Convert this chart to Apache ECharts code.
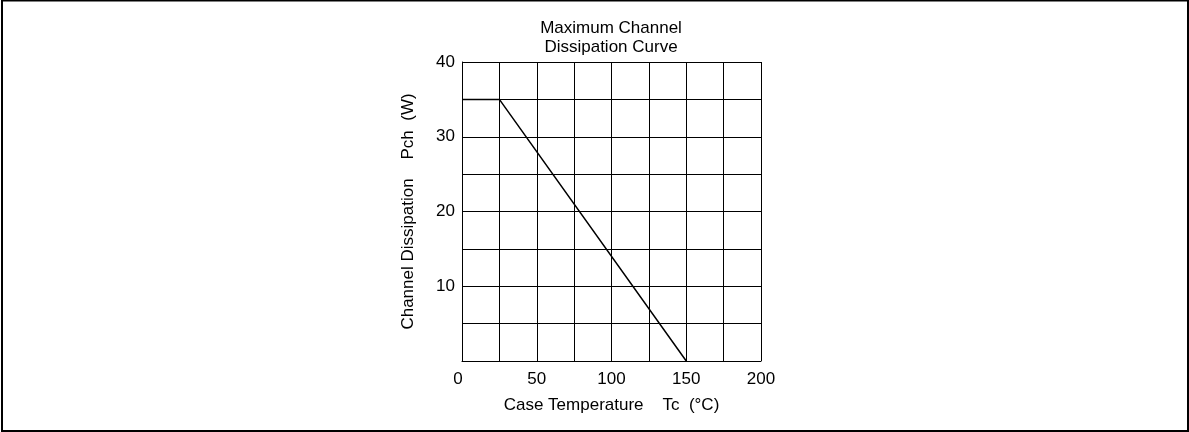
<!DOCTYPE html>
<html>
<head>
<meta charset="utf-8">
<style>
html,body{margin:0;padding:0;background:#fff;}
#chart{width:1189px;height:432px;}
</style>
<script src="https://cdn.jsdelivr.net/npm/echarts@6/dist/echarts.min.js"></script>
</head>
<body>
<div id="chart"></div>
<script>
const titleText = 'Maximum Channel\nDissipation Curve';
const xAxisName = 'Case Temperature    Tc  (°C)';
const yAxisName = 'Channel Dissipation    Pch  (W)';
const caseTemp = [0, 25, 150];
const pch = [35, 35, 0];
const xTickLabels = [0, 50, 100, 150, 200];
const yTickLabels = [10, 20, 30, 40];

const chart = echarts.init(document.getElementById('chart'), null, {renderer: 'canvas'});
const font = 'Liberation Sans, Arial, sans-serif';
const fs = 17;
chart.setOption({
  animation: false,
  backgroundColor: '#fff',
  textStyle: {fontFamily: font, color: '#000'},
  title: {
    text: titleText,
    left: 606, top: 14, textAlign: 'center',
    textStyle: {fontFamily: font, fontSize: fs, fontWeight: 'normal', color: '#000', lineHeight: 19}
  },
  graphic: [{
    type: 'rect', silent: true,
    shape: {x: 2, y: 0.5, width: 1186, height: 430.5},
    style: {fill: 'none', stroke: '#000', lineWidth: 2}
  }],
  grid: {left: 462, top: 62, width: 299, height: 299, containLabel: false},
  xAxis: {
    type: 'value', min: 0, max: 200, interval: 25,
    name: xAxisName, nameLocation: 'middle', nameGap: 36,
    nameTextStyle: {fontFamily: font, fontSize: fs, color: '#000'},
    axisLine: {show: true, lineStyle: {color: '#000', width: 1}},
    axisTick: {show: false},
    splitLine: {show: true, lineStyle: {color: '#000', width: 1}},
    axisLabel: {
      margin: 10, fontSize: fs, color: '#000', fontFamily: font,
      formatter: v => xTickLabels.includes(v) ? (v === 0 ? '{z|0}' : String(v)) : '',
      rich: {z: {fontSize: fs, fontFamily: font, color: '#000', padding: [0, 8, 7, 0]}}
    }
  },
  yAxis: {
    type: 'value', min: 0, max: 40, interval: 5,
    name: yAxisName, nameLocation: 'middle', nameGap: 45, nameRotate: 90,
    nameTextStyle: {fontFamily: font, fontSize: fs, color: '#000'},
    axisLine: {show: true, lineStyle: {color: '#000', width: 1}},
    axisTick: {show: false},
    splitLine: {show: true, lineStyle: {color: '#000', width: 1}},
    axisLabel: {
      margin: 7, fontSize: fs, color: '#000', fontFamily: font,
      formatter: v => yTickLabels.includes(v) ? String(v) : ''
    }
  },
  series: [{
    type: 'line',
    data: caseTemp.map((x, i) => [x, pch[i]]),
    symbol: 'none',
    lineStyle: {color: '#000', width: 1.5},
    z: 5
  }]
});
</script>
</body>
</html>
